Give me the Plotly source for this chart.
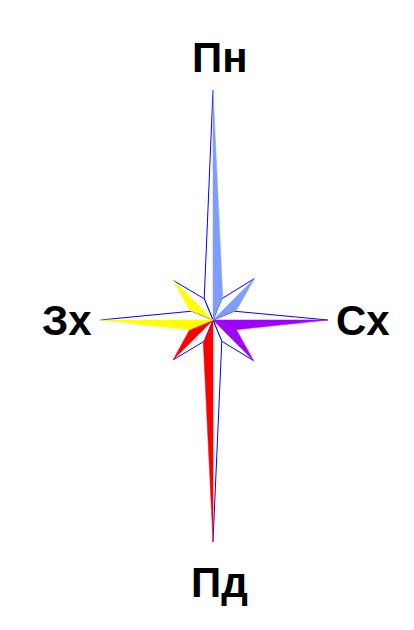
import numpy as np
import plotly.graph_objects as go

# wind rose data: 8 directions, ray length per direction
directions = ["Пн", "Пн-Сх", "Сх", "Пд-Сх", "Пд", "Пд-Зх", "Зх", "Пн-Зх"]
angles = [0, 45, 90, 135, 180, 225, 270, 315]
values = [20.0, 5.1, 10.0, 5.0, 19.3, 4.9, 9.8, 4.85]
labels = ["Пн", "Сх", "Пд", "Зх"]
label_angles = [0, 90, 180, 270]

# styles
inner_r = 2.0
quad_colors = ["#7f9dff", "#7f9dff", "#a000ff", "#a000ff",
               "#ff0000", "#ff0000", "#ffff00", "#ffff00"]
fill_side = [1, 1, 1, -1, 1, 1, -1, -1]   # +1 = clockwise half coloured
outline = "#0000ff"
scale = 11.5  # px per unit
off = 8       # page body margin
cx, cy = 213 - off, 320 - off
W, H = 414 - off, 630 - off


def pol(r, a):
    t = np.radians(a)
    return r * np.sin(t), r * np.cos(t)


fig = go.Figure()

# white halves with blue outline
for a, v, s in zip(angles, values, fill_side):
    xi, yi = pol(inner_r, a - s * 22.5)
    xt, yt = pol(v, a)
    fig.add_trace(go.Scatter(
        x=[0, xi, xt], y=[0, yi, yt], mode="lines", fill="toself",
        fillcolor="white", line=dict(color=outline, width=1),
        hoverinfo="skip", showlegend=False))

# coloured halves
for a, v, s, c in zip(angles, values, fill_side, quad_colors):
    xi, yi = pol(inner_r * 1.1, a + s * 22.5)
    xt, yt = pol(v, a)
    fig.add_trace(go.Scatter(
        x=[0, xt, xi, 0], y=[0, yt, yi, 0], mode="lines", fill="toself",
        fillcolor=c, line=dict(color=c, width=0.5),
        hoverinfo="skip", showlegend=False))

# compass labels
label_r = [22.8, 13.0, 22.8, 12.7]
for lab, a, r in zip(labels, label_angles, label_r):
    x, y = pol(r, a)
    fig.add_annotation(x=x + (0.6 if a in (0, 180) else 0), y=y, text="<b>%s</b>" % lab,
                       showarrow=False, xanchor="center", yanchor="middle",
                       font=dict(family="Liberation Sans, Arial", size=42, color="black"))

fig.update_xaxes(range=[-cx / scale, (W - cx) / scale], visible=False, fixedrange=True)
fig.update_yaxes(range=[-(H - cy) / scale, cy / scale], visible=False, fixedrange=True)
fig.update_layout(
    width=W, height=H, margin=dict(l=0, r=0, t=0, b=0),
    plot_bgcolor="white", paper_bgcolor="white", showlegend=False)

fig.write_html("out.html")
